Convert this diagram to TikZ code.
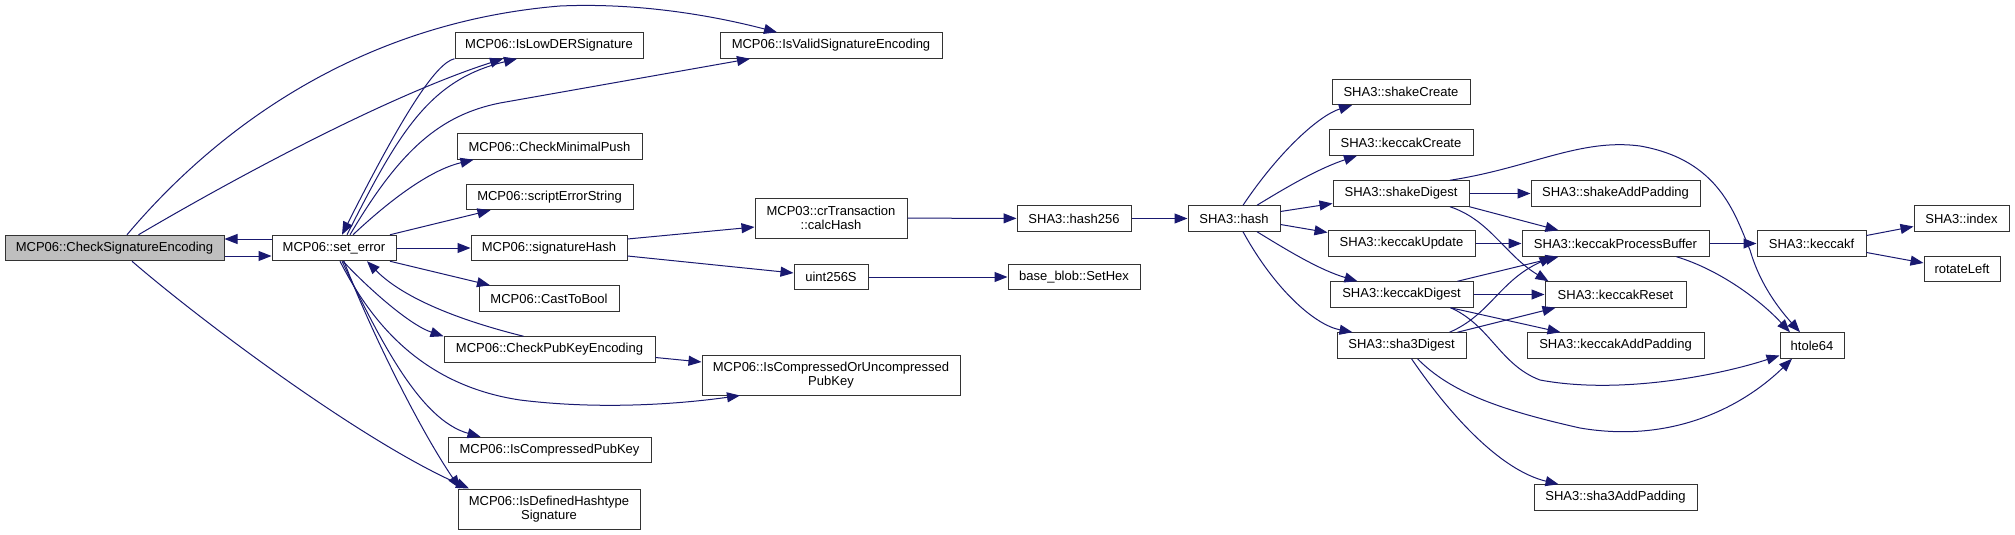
\documentclass[tikz,border=0pt]{standalone}
\usepackage{fontspec}
\setmainfont{Liberation Sans}
\usetikzlibrary{positioning}
\usetikzlibrary{arrows.meta}
\definecolor{edgeblue}{RGB}{25,25,112}
\definecolor{rootgray}{RGB}{191,191,191}

\begin{document}
\begin{tikzpicture}[x=1pt, y=-1pt,
    fn/.style={draw=black!80, line width=1pt, fill=white, minimum height=25.5pt,
        inner sep=2pt, align=center, font=\fontsize{13}{14}\selectfont},
    call/.style={draw=edgeblue, line width=1pt, -{Triangle[length=13pt,width=10pt]}}]
    \useasboundingbox (0,0) rectangle (2015,535);
    \fill[white] (0,0) rectangle (2015,535);
    % functions
    \node[fn, fill=rootgray, minimum width=219pt] (cse) at (114.5,248) {MCP06::CheckSignatureEncoding};
    \node[fn, minimum width=124pt] (seterr) at (334,248) {MCP06::set\_error};
    \node[fn, minimum width=188pt] (lowder) at (549,45.5) {MCP06::IsLowDERSignature};
    \node[fn, minimum width=222pt] (validenc) at (831,45.5) {MCP06::IsValidSignatureEncoding};
    \node[fn, minimum width=185pt] (minpush) at (549.5,146.5) {MCP06::CheckMinimalPush};
    \node[fn, minimum width=167pt] (errstr) at (549.5,197) {MCP06::scriptErrorString};
    \node[fn, minimum width=156pt] (sighash) at (549,248) {MCP06::signatureHash};
    \node[fn, minimum width=140pt] (casttobool) at (549,298.5) {MCP06::CastToBool};
    \node[fn, minimum width=211pt] (checkpub) at (549.5,349.5) {MCP06::CheckPubKeyEncoding};
    \node[fn, minimum width=203pt] (compresspub) at (549.5,450) {MCP06::IsCompressedPubKey};
    \node[fn, minimum width=182pt, minimum height=40pt] (hashtype) at (549,509) {MCP06::IsDefinedHashtype\\Signature};
    \node[fn, minimum width=152pt, minimum height=40pt] (calchash) at (831,218) {MCP03::crTransaction\\::calcHash};
    \node[fn, minimum width=74pt] (uint) at (831,277) {uint256S};
    \node[fn, minimum width=258pt, minimum height=40pt] (compuncomp) at (831,375) {MCP06::IsCompressedOrUncompressed\\PubKey};
    \node[fn, minimum width=114pt] (hashtf) at (1074,218.5) {SHA3::hash256};
    \node[fn, minimum width=132pt] (sethex) at (1074,277) {base\_blob::SetHex};
    \node[fn, minimum width=92pt] (shahash) at (1234,218.5) {SHA3::hash};
    \node[fn, minimum width=138pt] (shakecreate) at (1401,92) {SHA3::shakeCreate};
    \node[fn, minimum width=144pt] (keccakcreate) at (1401,142.5) {SHA3::keccakCreate};
    \node[fn, minimum width=136pt] (shakedigest) at (1401,193.5) {SHA3::shakeDigest};
    \node[fn, minimum width=147pt] (keccakupdate) at (1401.5,243.5) {SHA3::keccakUpdate};
    \node[fn, minimum width=143pt] (keccakdigest) at (1401.5,294.5) {SHA3::keccakDigest};
    \node[fn, minimum width=129pt] (shadigest) at (1401.5,345.5) {SHA3::sha3Digest};
    \node[fn, minimum width=169pt] (shakepad) at (1615.5,193.5) {SHA3::shakeAddPadding};
    \node[fn, minimum width=187pt] (procbuf) at (1615.5,243.5) {SHA3::keccakProcessBuffer};
    \node[fn, minimum width=141pt] (keccakreset) at (1615.5,294.5) {SHA3::keccakReset};
    \node[fn, minimum width=177pt] (keccakpad) at (1615.5,345.5) {SHA3::keccakAddPadding};
    \node[fn, minimum width=163pt] (shapad) at (1615.5,497.5) {SHA3::sha3AddPadding};
    \node[fn, minimum width=109pt] (keccakf) at (1811.5,243.5) {SHA3::keccakf};
    \node[fn, minimum width=64pt] (htole) at (1812,345.5) {htole64};
    \node[fn, minimum width=95pt] (index) at (1961.5,218.5) {SHA3::index};
    \node[fn, minimum width=76pt] (rotleft) at (1962,269) {rotateLeft};
    % CheckSignatureEncoding
    \draw[call] ([yshift=-8pt]cse.east) -- ([yshift=-8pt]seterr.west);
    \draw[call] ([yshift=9pt]seterr.west) -- ([yshift=9pt]cse.east);
    \draw[call] ([xshift=24pt]cse.north) .. controls (240,175) and (390,95) .. ([xshift=-46pt]lowder.south);
    \draw[call] ([xshift=12.5pt]cse.north) .. controls (190,160) and (330,25) .. (560,6)
        .. controls (650,2) and (730,20) .. ([xshift=-54pt]validenc.north);
    \draw[call] ([xshift=17.5pt]cse.south) .. controls (200,320) and (360,440) .. ([xshift=-80pt]hashtype.north);
    % set_error
    \draw[call] (lowder.south west) .. controls (435,63) and (400,120) .. ([xshift=8pt]seterr.north);
    \draw[call] ([xshift=13pt]seterr.north) .. controls (400,130) and (430,80) .. ([xshift=-32pt]lowder.south);
    \draw[call] ([xshift=16pt]seterr.north) .. controls (400,150) and (440,115) .. (500,103) -- ([xshift=-81pt]validenc.south);
    \draw[call] ([xshift=19pt]seterr.north) .. controls (390,200) and (430,170) .. ([xshift=-76pt]minpush.south);
    \draw[call] ([xshift=56pt]seterr.north) -- ([xshift=-59pt]errstr.south);
    \draw[call] (seterr) -- (sighash);
    \draw[call] ([xshift=56pt]seterr.south) -- ([xshift=-59pt]casttobool.north);
    \draw[call] ([xshift=9pt]seterr.south) .. controls (370,290) and (410,325) .. (checkpub.north west);
    \draw[call] ([xshift=-26pt]checkpub.north) .. controls (450,318) and (400,295) .. ([xshift=33pt]seterr.south);
    \draw[call] ([yshift=-8pt]checkpub.east) -- ([yshift=13pt]compuncomp.west);
    \draw[call] ([xshift=6pt]seterr.south) .. controls (370,320) and (420,385) .. (520,400)
        .. controls (600,410) and (680,404) .. ([xshift=-91pt]compuncomp.south);
    \draw[call] ([xshift=8pt]seterr.south) .. controls (380,340) and (420,420) .. ([xshift=-69pt]compresspub.north);
    \draw[call] ([xshift=10pt]seterr.south) .. controls (370,330) and (420,430) .. ([xshift=-89pt]hashtype.north);
    % signatureHash
    \draw[call] ([yshift=9pt]sighash.east) -- ([yshift=-9pt]calchash.west);
    \draw[call] ([yshift=-8pt]sighash.east) -- ([yshift=4pt]uint.west);
    \draw[call] (calchash) -- (hashtf);
    \draw[call] (uint) -- (sethex);
    \draw[call] (hashtf) -- (shahash);
    % SHA3::hash
    \draw[call] ([xshift=9pt]shahash.north) .. controls (1280,150) and (1320,115) .. ([xshift=-49pt]shakecreate.south);
    \draw[call] ([xshift=23pt]shahash.north) .. controls (1290,185) and (1320,168) .. ([xshift=-44pt]keccakcreate.south);
    \draw[call] ([yshift=7pt]shahash.east) -- ([yshift=-10pt]shakedigest.west);
    \draw[call] ([yshift=-6pt]shahash.east) -- ([yshift=11pt]keccakupdate.west);
    \draw[call] ([xshift=23pt]shahash.south) .. controls (1290,252) and (1320,270) .. ([xshift=-44pt]keccakdigest.north);
    \draw[call] ([xshift=9pt]shahash.south) .. controls (1275,290) and (1315,325) .. ([xshift=-49pt]shadigest.north);
    % shakeDigest
    \draw[call] (shakedigest) -- (shakepad);
    \draw[call] (shakedigest.south east) -- ([xshift=-57pt]procbuf.north);
    \draw[call] ([xshift=49pt]shakedigest.south) .. controls (1490,220) and (1505,255) .. ([xshift=-67pt]keccakreset.north);
    \draw[call] ([xshift=49pt]shakedigest.north) .. controls (1530,168) and (1580,138) .. (1640,146)
        .. controls (1720,160) and (1735,215) .. (1750,250)
        .. controls (1760,285) and (1780,310) .. ([xshift=-12pt]htole.north);
    % keccakUpdate, keccakDigest
    \draw[call] (keccakupdate) -- (procbuf);
    \draw[call] ([xshift=56pt]keccakdigest.north) -- ([xshift=-57pt]procbuf.south);
    \draw[call] (keccakdigest) -- (keccakreset);
    \draw[call] ([xshift=49pt]keccakdigest.south) -- ([xshift=-55pt]keccakpad.north);
    \draw[call] ([xshift=49pt]keccakdigest.south) .. controls (1490,325) and (1500,365) .. (1540,380)
        .. controls (1620,395) and (1720,375) .. ([yshift=-10pt]htole.west);
    % sha3Digest
    \draw[call] ([xshift=48pt]shadigest.north) .. controls (1490,315) and (1500,280) .. ([xshift=-63pt]procbuf.south);
    \draw[call] ([xshift=56pt]shadigest.north) -- ([xshift=-60pt]keccakreset.south);
    \draw[call] ([xshift=16pt]shadigest.south) .. controls (1450,392) and (1500,410) .. (1580,428)
        .. controls (1680,445) and (1750,400) .. ([xshift=-20pt]htole.south);
    \draw[call] ([xshift=10pt]shadigest.south) .. controls (1450,415) and (1500,470) .. ([xshift=-57pt]shapad.north);
    % keccakProcessBuffer, keccakf
    \draw[call] (procbuf) -- (keccakf);
    \draw[call] ([xshift=61pt]procbuf.south) .. controls (1720,270) and (1760,300) .. ([xshift=-22pt]htole.north);
    \draw[call] ([yshift=8pt]keccakf.east) -- ([yshift=-8pt]index.west);
    \draw[call] ([yshift=-9pt]keccakf.east) -- ([yshift=6pt]rotleft.west);
\end{tikzpicture}
\end{document}
